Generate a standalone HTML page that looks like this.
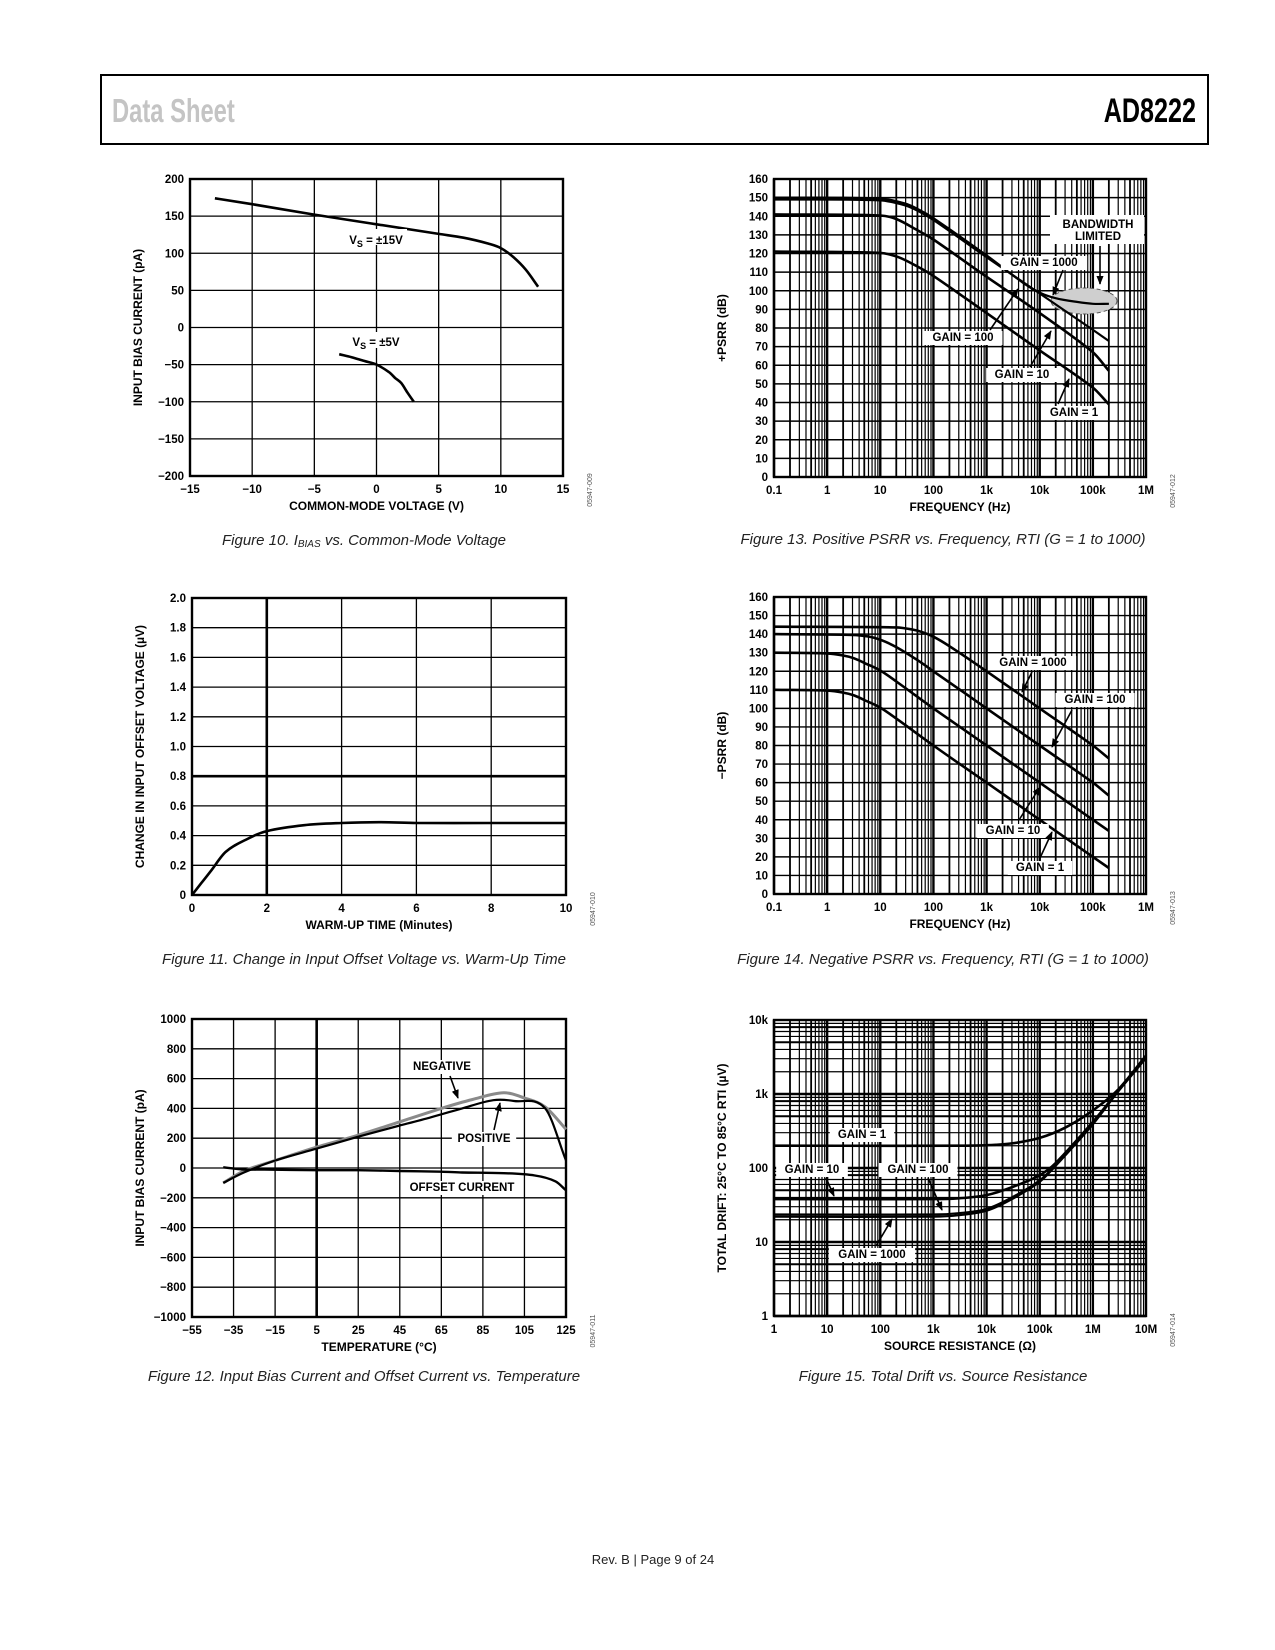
<!DOCTYPE html>
<html><head><meta charset="utf-8"><style>
html,body{margin:0;padding:0;background:#fff}
svg{display:block}
text{font-family:"Liberation Sans",sans-serif}
.tk{font-size:11.5px;font-weight:bold;fill:#000}
.at{font-size:12px;font-weight:bold;fill:#000}
.cap{font-size:15px;font-style:italic;fill:#222}
.lbl{font-size:11.5px;font-weight:bold;fill:#000}
.code{font-size:7px;fill:#555}
</style></head><body>
<svg id="page" xmlns="http://www.w3.org/2000/svg" width="1275" height="1650" viewBox="0 0 1275 1650">
<rect x="101" y="75" width="1107" height="69" fill="none" stroke="#000" stroke-width="2"/>
<text x="0" y="0" transform="translate(112,122) scale(0.72,1)" style="font-size:33px;font-weight:bold;fill:#c4c4c4">Data Sheet</text>
<text x="0" y="0" text-anchor="end" transform="translate(1196,122) scale(0.74,1)" style="font-size:34px;font-weight:bold;fill:#000">AD8222</text>
<text class="cap" x="364" y="545" text-anchor="middle">Figure 10. I<tspan font-size="10" dy="2">BIAS</tspan><tspan dy="-2"> vs. Common-Mode Voltage</tspan></text>
<text class="cap" x="943" y="544" text-anchor="middle">Figure 13. Positive PSRR vs. Frequency, RTI (G = 1 to 1000)</text>
<text class="cap" x="364" y="964" text-anchor="middle">Figure 11. Change in Input Offset Voltage vs. Warm-Up Time</text>
<text class="cap" x="943" y="964" text-anchor="middle">Figure 14. Negative PSRR vs. Frequency, RTI (G = 1 to 1000)</text>
<text class="cap" x="364" y="1381" text-anchor="middle">Figure 12. Input Bias Current and Offset Current vs. Temperature</text>
<text class="cap" x="943" y="1381" text-anchor="middle">Figure 15. Total Drift vs. Source Resistance</text>
<text x="653" y="1564" text-anchor="middle" style="font-size:13px;fill:#222">Rev. B | Page 9 of 24</text>
<defs><marker id="ah" viewBox="0 0 10 10" refX="9" refY="5" markerWidth="9" markerHeight="9" orient="auto" markerUnits="userSpaceOnUse"><path d="M0,1 L10,5 L0,9 z" fill="#000"/></marker></defs>
</svg>
<script>
// ---- Figure 10 data ----
const f10X15 = [-13,-10,-5,0,5,7,9,10,11,12,13];
const f10Y15 = [174,166,152,139,126,121,113,107,95,78,55];
const f10X5 = [-3,-2,-1,0,1,1.5,2,2.5,3];
const f10Y5 = [-36,-40,-45,-50,-60,-68,-75,-88,-100];
const f10XTicks = [-15,-10,-5,0,5,10,15];
const f10YTicks = [-200,-150,-100,-50,0,50,100,150,200];
// ---- Figure 11 data ----
const f11X = [0,0.25,0.5,0.9,1.5,2,3,4,5,6,8,10];
const f11Y = [0,0.08,0.16,0.29,0.38,0.43,0.47,0.485,0.49,0.485,0.485,0.485];
const f11XTicks = [0,2,4,6,8,10];
const f11YTicks = [0,0.2,0.4,0.6,0.8,1.0,1.2,1.4,1.6,1.8,2.0];
// ---- Figure 12 data ----
const f12PosX = [-40,-30,-15,5,25,45,60,75,90,100,115,125];
const f12PosY = [-100,-30,50,130,210,285,340,400,455,450,400,50];
const f12NegX = [-40,-30,-15,5,25,45,65,80,95,105,115,125];
const f12NegY = [-100,-20,50,140,220,310,400,460,505,470,410,260];
const f12OffX = [-40,-30,-20,5,25,45,65,75,95,110,120,125];
const f12OffY = [5,-10,-10,-15,-15,-20,-25,-30,-35,-50,-90,-150];
const f12XTicks = [-55,-35,-15,5,25,45,65,85,105,125];
const f12YTicks = [-1000,-800,-600,-400,-200,0,200,400,600,800,1000];
// ---- Figure 13 data ----
const f13F = [0.1,10,22,50,100,1000,10000,100000,200000];
const f13G1 = [121,120.3,118,113,108,88,68,48,39];
const f13G10F = [0.1,10,20,50,100,1000,10000,100000,200000];
const f13G10 = [141,140.4,138.5,132.5,127.5,107.5,88,67,57];
const f13G100F = [0.1,10,28,50,100,1000,10000,100000,200000];
const f13G100 = [149,148.5,146,143,138,118,98.5,79,73];
const f13G1000F = [0.1,10,28,50,100,1000,5000,10000,20000,50000,100000,200000];
const f13G1000 = [150,149.5,147,144,139,119,104,99,96,94,93,93];
// ---- Figure 14 data ----
const f14FLow = [0.1,1,2,3.2,5,10,20,100,1000,10000,100000,200000];
const f14G1 = [110,109.6,108.5,107,104.5,100.4,94.5,80,60,40,20,14];
const f14G10 = [130,129.6,128.5,127,124.5,120.4,114.5,100,80,60,40,34];
const f14G100F = [0.1,3,6,10,20,50,100,1000,10000,100000,200000];
const f14G100 = [140,139.6,138.7,137,133,126,120,100,80,60,53];
const f14G1000F = [0.1,20,40,63,100,200,1000,10000,100000,200000];
const f14G1000 = [144,143.6,142.5,141,138.6,133.5,120,100,80,73];
const psrrYTicks = [0,10,20,30,40,50,60,70,80,90,100,110,120,130,140,150,160];
const freqTicks = [0.1,1,10,100,1000,10000,100000,1000000];
const freqLabels = ['0.1','1','10','100','1k','10k','100k','1M'];
// ---- Figure 15 data ----
const f15G1R = [1,3000,10000,30000,100000,300000,1e6,3e6,1e7];
const f15G1 = [200,200,203,215,255,350,600,1150,3300];
const f15G10R = [1,1000,3000,10000,30000,100000,200000,1e6,3e6,1e7];
const f15G10 = [38,38,39,43,55,80,117,420,1100,3200];
const f15G100R = [1,1000,3000,10000,30000,100000,200000,1e6,3e6,1e7];
const f15G100 = [23.5,23.5,24.5,28,40,68,110,400,1100,3100];
const f15G1000 = [22,22,23,26.5,38,65,107,390,1080,3050];
const f15XTicks = [1,10,100,1000,10000,100000,1e6,1e7];
const f15XLabels = ['1','10','100','1k','10k','100k','1M','10M'];
const f15YTicks = [1,10,100,1000,10000];
const f15YLabels = ['1','10','100','1k','10k'];

const NS = 'http://www.w3.org/2000/svg';
const svg = document.getElementById('page');
function mk(tag, attrs, parent) {
  const e = document.createElementNS(NS, tag);
  for (const k in attrs) e.setAttribute(k, attrs[k]);
  (parent || svg).appendChild(e);
  return e;
}
function lin(d0, d1, p0, p1) { return v => p0 + (v - d0) * (p1 - p0) / (d1 - d0); }
function lg(d0, d1, p0, p1) { const a = Math.log10(d0), b = Math.log10(d1); return v => p0 + (Math.log10(v) - a) * (p1 - p0) / (b - a); }
function smooth(pts) {
  let d = 'M' + pts[0][0].toFixed(1) + ',' + pts[0][1].toFixed(1);
  for (let i = 0; i < pts.length - 1; i++) {
    const p0 = pts[Math.max(0, i - 1)], p1 = pts[i], p2 = pts[i + 1], p3 = pts[Math.min(pts.length - 1, i + 2)];
    const seg = p2[0] - p1[0];
    // tangents scaled to segment length to avoid overshoot on uneven spacing
    const t1x = p2[0] - p0[0], t1y = p2[1] - p0[1];
    const t2x = p3[0] - p1[0], t2y = p3[1] - p1[1];
    const k1 = t1x ? seg / t1x / 3 : 1 / 6, k2 = t2x ? seg / t2x / 3 : 1 / 6;
    const c1x = p1[0] + t1x * k1, c1y = p1[1] + t1y * k1;
    const c2x = p2[0] - t2x * k2, c2y = p2[1] - t2y * k2;
    d += ' C' + c1x.toFixed(1) + ',' + c1y.toFixed(1) + ' ' + c2x.toFixed(1) + ',' + c2y.toFixed(1) + ' ' + p2[0].toFixed(1) + ',' + p2[1].toFixed(1);
  }
  return d;
}
function series(g, xs, ys, sx, sy, name, color, w) {
  const pts = xs.map((x, i) => [sx(x), sy(ys[i])]);
  const p = mk('path', {d: smooth(pts), fill: 'none', stroke: color || '#000', 'stroke-width': w || 2.6, 'stroke-linejoin': 'round'}, g);
  
  
  return p;
}
function label(g, x, y, txt, name, bg) {
  if (bg) {
    const w = txt.length * 7.3 + 6;
    const r = mk('rect', {x: x - w / 2, y: y - 10, width: w, height: 14, fill: '#fff'}, g);
    
    
  }
  const t = mk('text', {x: x, y: y, 'text-anchor': 'middle', class: 'lbl'}, g);
  t.textContent = txt;
  
  
  return t;
}
function arrow(g, x1, y1, x2, y2, name) {
  const l = mk('line', {x1: x1, y1: y1, x2: x2, y2: y2, stroke: '#000', 'stroke-width': 1.6, 'marker-end': 'url(#ah)'}, g);
  
  
}
function frame(g, L, T, R, B, name) {
  const r = mk('rect', {x: L, y: T, width: R - L, height: B - T, fill: 'none', stroke: '#000', 'stroke-width': 2.4}, g);
  
  
}
function gline(g, x1, y1, x2, y2, w, name) {
  const l = mk('line', {x1: x1, y1: y1, x2: x2, y2: y2, stroke: '#000', 'stroke-width': w}, g);
  
  
}
function tickText(g, x, y, txt, anchor, name) {
  const t = mk('text', {x: x, y: y, 'text-anchor': anchor, class: 'tk'}, g);
  t.textContent = txt;
  
  
}
function titles(g, L, T, R, B, xt, yt, code, prefix) {
  const t = mk('text', {x: (L + R) / 2, y: B + 34, 'text-anchor': 'middle', class: 'at'}, g);
  t.textContent = xt;
  
  
  const yx = L - 48, yy = (T + B) / 2;
  const u = mk('text', {x: yx, y: yy, 'text-anchor': 'middle', class: 'at', transform: 'rotate(-90 ' + yx + ' ' + yy + ')'}, g);
  u.textContent = yt;
  
  
  const cx = R + 29, cy = B + 14;
  const c = mk('text', {x: cx, y: cy, 'text-anchor': 'middle', class: 'code', transform: 'rotate(-90 ' + cx + ' ' + cy + ')'}, g);
  c.textContent = code;
  
  
}
function fmtMinus(v) { return String(v).replace('-', '\u2212'); }
function linGrid(g, L, T, R, B, sx, sy, xt, yt, prefix, yfmt, thickX, thickY) {
  xt.forEach(v => gline(g, sx(v), T, sx(v), B, v === thickX ? 2.6 : 1.3, prefix + '-x-grid'));
  yt.forEach(v => gline(g, L, sy(v), R, sy(v), v === thickY ? 2.6 : 1.3, prefix + '-y-grid'));
  xt.forEach(v => tickText(g, sx(v), B + 17, fmtMinus(v), 'middle', prefix + '-x-tick'));
  yt.forEach(v => tickText(g, L - 6, sy(v) + 4, yfmt ? yfmt(v) : fmtMinus(v), 'end', prefix + '-y-tick'));
}
function logVGrid(g, sx, lo, hi, T, B, prefix) {
  for (let d = lo; d < hi; d *= 10) {
    for (let m = 1; m <= 9; m++) {
      const v = d * m;
      gline(g, sx(v), T, sx(v), B, m === 1 ? 2.4 : (m === 2 || m === 5 ? 1.8 : 1.2), prefix + '-x-grid');
    }
  }
}
function group(name) {
  const g = mk('g', {});
  
  
  return g;
}

// ===== Figure 10 =====
(function () {
  const L = 190, R = 563, T = 179, B = 476;
  const g = group('figure-10-chart');
  const sx = lin(-15, 15, L, R), sy = lin(-200, 200, B, T);
  linGrid(g, L, T, R, B, sx, sy, f10XTicks, f10YTicks, 'fig10');
  frame(g, L, T, R, B, 'fig10-plot-frame');
  series(g, f10X15, f10Y15, sx, sy, 'fig10-vs15-line');
  series(g, f10X5, f10Y5, sx, sy, 'fig10-vs5-line');
  const a = mk('rect', {x: 345, y: 229, width: 62, height: 16, fill: '#fff'}, g);
  
  
  const b = mk('rect', {x: 348, y: 332, width: 56, height: 16, fill: '#fff'}, g);
  
  
  const t1 = mk('text', {x: 376, y: 244, 'text-anchor': 'middle', class: 'lbl'}, g);
  t1.innerHTML = 'V<tspan font-size="9" dy="3">S</tspan><tspan dy="-3"> = ±15V</tspan>';
  
  
  const t2 = mk('text', {x: 376, y: 346, 'text-anchor': 'middle', class: 'lbl'}, g);
  t2.innerHTML = 'V<tspan font-size="9" dy="3">S</tspan><tspan dy="-3"> = ±5V</tspan>';
  
  
  titles(g, L, T, R, B, 'COMMON-MODE VOLTAGE (V)', 'INPUT BIAS CURRENT (pA)', '05947-009', 'fig10');
})();

// ===== Figure 11 =====
(function () {
  const L = 192, R = 566, T = 598, B = 895;
  const g = group('figure-11-chart');
  const sx = lin(0, 10, L, R), sy = lin(0, 2, B, T);
  linGrid(g, L, T, R, B, sx, sy, f11XTicks, f11YTicks, 'fig11', v => v === 0 ? '0' : v.toFixed(1), 2, 0.8);
  frame(g, L, T, R, B, 'fig11-plot-frame');
  series(g, f11X, f11Y, sx, sy, 'fig11-warmup-line');
  titles(g, L, T, R, B, 'WARM-UP TIME (Minutes)', 'CHANGE IN INPUT OFFSET VOLTAGE (µV)', '05947-010', 'fig11');
})();

// ===== Figure 12 =====
(function () {
  const L = 192, R = 566, T = 1019, B = 1317;
  const g = group('figure-12-chart');
  const sx = lin(-55, 125, L, R), sy = lin(-1000, 1000, B, T);
  linGrid(g, L, T, R, B, sx, sy, f12XTicks, f12YTicks, 'fig12', null, 5, null);
  frame(g, L, T, R, B, 'fig12-plot-frame');
  series(g, f12NegX, f12NegY, sx, sy, 'fig12-negative-line', '#8a8a8a', 3);
  series(g, f12PosX, f12PosY, sx, sy, 'fig12-positive-line', '#000', 2.2);
  series(g, f12OffX, f12OffY, sx, sy, 'fig12-offset-line', '#000', 2.4);
  label(g, 442, 1070, 'NEGATIVE', 'fig12-negative-label', true);
  arrow(g, 450, 1076, 458, 1098, 'fig12-negative-arrow');
  label(g, 484, 1142, 'POSITIVE', 'fig12-positive-label', true);
  arrow(g, 494, 1130, 500, 1103, 'fig12-positive-arrow');
  label(g, 462, 1191, 'OFFSET CURRENT', 'fig12-offset-label', true);
  titles(g, L, T, R, B, 'TEMPERATURE (°C)', 'INPUT BIAS CURRENT (pA)', '05947-011', 'fig12');
})();

// ===== PSRR charts =====
function psrr(T, B, prefix, code, ytitle, draw) {
  const L = 774, R = 1146;
  const g = group(prefix + '-chart');
  const sx = lg(0.1, 1e6, L, R), sy = lin(0, 160, B, T);
  logVGrid(g, sx, 0.1, 1e6, T, B, prefix);
  psrrYTicks.forEach(v => gline(g, L, sy(v), R, sy(v), 1.4, prefix + '-y-grid'));
  psrrYTicks.forEach(v => tickText(g, L - 6, sy(v) + 4, String(v), 'end', prefix + '-y-tick'));
  freqTicks.forEach((v, i) => tickText(g, sx(v), B + 17, freqLabels[i], 'middle', prefix + '-x-tick'));
  frame(g, L, T, R, B, prefix + '-plot-frame');
  draw(g, sx, sy);
  titles(g, L, T, R, B, 'FREQUENCY (Hz)', ytitle, code, prefix);
}
psrr(179, 477, 'fig13', '05947-012', '+PSRR (dB)', function (g, sx, sy) {
  const e = mk('ellipse', {cx: 1084, cy: 301, rx: 33, ry: 13, fill: '#cfcfcf', stroke: '#555', 'stroke-width': 1, 'stroke-dasharray': '4,3'}, g);
  
  
  series(g, f13F, f13G1, sx, sy, 'fig13-gain1-line');
  series(g, f13G10F, f13G10, sx, sy, 'fig13-gain10-line');
  series(g, f13G100F, f13G100, sx, sy, 'fig13-gain100-line', '#000', 2.2);
  series(g, f13G1000F, f13G1000, sx, sy, 'fig13-gain1000-line', '#000', 2.2);
  const r = mk('rect', {x: 1050, y: 215, width: 94, height: 29, fill: '#fff'}, g);
  
  
  label(g, 1098, 228, 'BANDWIDTH', 'fig13-bandwidth-label', false);
  label(g, 1098, 240, 'LIMITED', 'fig13-limited-label', false);
  arrow(g, 1100, 246, 1100, 284, 'fig13-bandwidth-arrow');
  label(g, 1044, 266, 'GAIN = 1000', 'fig13-gain1000-label', true);
  arrow(g, 1063, 270, 1053, 295, 'fig13-gain1000-arrow');
  label(g, 963, 341, 'GAIN = 100', 'fig13-gain100-label', true);
  arrow(g, 990, 330, 1018, 289, 'fig13-gain100-arrow');
  label(g, 1022, 378, 'GAIN = 10', 'fig13-gain10-label', true);
  arrow(g, 1030, 367, 1051, 331, 'fig13-gain10-arrow');
  label(g, 1074, 416, 'GAIN = 1', 'fig13-gain1-label', true);
  arrow(g, 1058, 404, 1069, 379, 'fig13-gain1-arrow');
});
psrr(597, 894, 'fig14', '05947-013', '\u2212PSRR (dB)', function (g, sx, sy) {
  series(g, f14FLow, f14G1, sx, sy, 'fig14-gain1-line');
  series(g, f14FLow, f14G10, sx, sy, 'fig14-gain10-line');
  series(g, f14G100F, f14G100, sx, sy, 'fig14-gain100-line');
  series(g, f14G1000F, f14G1000, sx, sy, 'fig14-gain1000-line');
  label(g, 1033, 666, 'GAIN = 1000', 'fig14-gain1000-label', true);
  arrow(g, 1032, 672, 1022, 692, 'fig14-gain1000-arrow');
  label(g, 1095, 703, 'GAIN = 100', 'fig14-gain100-label', true);
  arrow(g, 1072, 710, 1052, 747, 'fig14-gain100-arrow');
  label(g, 1013, 834, 'GAIN = 10', 'fig14-gain10-label', true);
  arrow(g, 1019, 820, 1040, 787, 'fig14-gain10-arrow');
  label(g, 1040, 871, 'GAIN = 1', 'fig14-gain1-label', true);
  arrow(g, 1040, 858, 1052, 832, 'fig14-gain1-arrow');
});

// ===== Figure 15 =====
(function () {
  const L = 774, R = 1146, T = 1020, B = 1316;
  const g = group('figure-15-chart');
  const sx = lg(1, 1e7, L, R), sy = lg(1, 10000, B, T);
  logVGrid(g, sx, 1, 1e7, T, B, 'fig15');
  for (let d = 1; d < 10000; d *= 10) {
    for (let m = 1; m <= 9; m++) {
      gline(g, L, sy(d * m), R, sy(d * m), m === 1 ? 2.4 : (m === 5 || m === 8 ? 2 : 1.2), 'fig15-y-grid');
    }
  }
  f15YTicks.forEach((v, i) => tickText(g, L - 6, sy(v) + 4, f15YLabels[i], 'end', 'fig15-y-tick'));
  f15XTicks.forEach((v, i) => tickText(g, sx(v), B + 17, f15XLabels[i], 'middle', 'fig15-x-tick'));
  frame(g, L, T, R, B, 'fig15-plot-frame');
  series(g, f15G1R, f15G1, sx, sy, 'fig15-gain1-line');
  series(g, f15G10R, f15G10, sx, sy, 'fig15-gain10-line');
  series(g, f15G100R, f15G100, sx, sy, 'fig15-gain100-line', '#000', 2.2);
  series(g, f15G100R, f15G1000, sx, sy, 'fig15-gain1000-line', '#000', 2.2);
  label(g, 862, 1138, 'GAIN = 1', 'fig15-gain1-label', true);
  label(g, 812, 1173, 'GAIN = 10', 'fig15-gain10-label', true);
  arrow(g, 826, 1178, 834, 1196, 'fig15-gain10-arrow');
  label(g, 918, 1173, 'GAIN = 100', 'fig15-gain100-label', true);
  arrow(g, 928, 1178, 942, 1210, 'fig15-gain100-arrow');
  label(g, 872, 1258, 'GAIN = 1000', 'fig15-gain1000-label', true);
  arrow(g, 876, 1246, 892, 1219, 'fig15-gain1000-arrow');
  titles(g, L, T, R, B, 'SOURCE RESISTANCE (\u03A9)', 'TOTAL DRIFT: 25°C TO 85°C RTI (µV)', '05947-014', 'fig15');
})();
</script>
</body></html>
